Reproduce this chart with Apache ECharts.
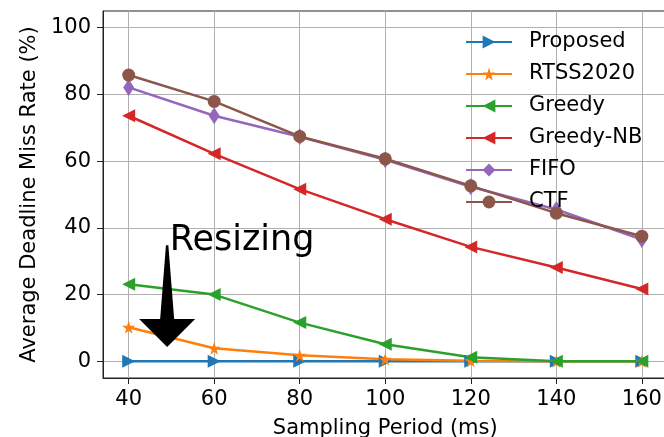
<!DOCTYPE html>
<html>
<head>
<meta charset="utf-8">
<script src="https://cdn.jsdelivr.net/npm/echarts@6/dist/echarts.min.js"></script>
<style>
  html, body { margin: 0; padding: 0; background: #fff; overflow: hidden; }
  #chart { width: 672px; height: 437px; }
</style>
</head>
<body>
<div id="chart"></div>
<script>
// sampling periods (ms)
const periods = [40, 60, 80, 100, 120, 140, 160];
const xTicks = [40, 60, 80, 100, 120, 140, 160];
const yTicks = [0, 20, 40, 60, 80, 100];

// average deadline miss rate (%)
const proposed = [0, 0, 0, 0, 0, 0, 0];
const rtss2020 = [10.2, 3.9, 1.8, 0.6, 0.2, 0, 0];
const greedy   = [23.1, 20.0, 11.6, 5.1, 1.2, 0, 0];
const greedyNB = [73.6, 62.2, 51.6, 42.6, 34.3, 28.1, 21.7];
const fifo     = [82.1, 73.6, 67.3, 60.4, 52.3, 45.5, 36.5];
const ctf      = [85.8, 77.9, 67.4, 60.7, 52.6, 44.4, 37.5];

// "Resizing" annotation (data coords)
const arrowTail = [49, 34.8];
const arrowTip = [49, 4.3];
const labelAt = [49.6, 30.8];

const star = 'path://M50,0 L61,35 L98,35 L68,57 L79,91 L50,70 L21,91 L32,57 L2,35 L39,35 Z';
const font = 'DejaVu Sans';

function pairs(ys) {
  return periods.map((x, i) => [x, ys[i]]);
}

function line(name, ys, color, symbol, size, rotate) {
  return {
    name: name,
    type: 'line',
    data: pairs(ys),
    color: color,
    symbol: symbol,
    symbolSize: size,
    symbolRotate: rotate || 0,
    showSymbol: true,
    lineStyle: { width: 2.5, color: color },
    itemStyle: { color: color },
    animation: false
  };
}

// the chart is a few px wider than the window: the right spine sits just off-screen
let myChart = echarts.init(document.getElementById('chart'));

let option = {
  backgroundColor: '#fff',
  textStyle: { fontFamily: font },
  grid: {
    left: 103, top: 11, width: 564.5, bottom: 59,
    outerBoundsMode: 'none',
    containLabel: false,
    show: true, borderColor: '#222', borderWidth: 1
  },
  legend: {
    orient: 'vertical',
    left: 465,
    top: 31,
    padding: 0,
    itemWidth: 46,
    itemHeight: 16,
    itemGap: 10,
    textStyle: { fontFamily: font, fontSize: 21, color: '#000', lineHeight: 22, padding: [0, 0, 0, 12] },
    data: ['Proposed', 'RTSS2020', 'Greedy', 'Greedy-NB', 'FIFO', 'CTF']
  },
  xAxis: {
    type: 'value',
    min: 34,
    max: 166,
    name: 'Sampling Period (ms)',
    nameLocation: 'middle',
    nameGap: 40,
    nameTextStyle: { fontFamily: font, fontSize: 21, color: '#000' },
    axisLine: { show: true, onZero: false, lineStyle: { color: '#222', width: 1 } },
    axisTick: { show: true, length: 6, customValues: xTicks, lineStyle: { color: '#222' } },
    axisLabel: { customValues: xTicks, fontFamily: font, fontSize: 21, color: '#000', margin: 11 },
    splitLine: { show: true, lineStyle: { color: '#b0b0b0', width: 1 } }
  },
  yAxis: {
    type: 'value',
    min: -5,
    max: 105,
    name: 'Average Deadline Miss Rate (%)',
    nameLocation: 'middle',
    nameGap: 50,
    nameTextStyle: { fontFamily: font, fontSize: 21, color: '#000' },
    axisLine: { show: true, lineStyle: { color: '#222', width: 1 } },
    axisTick: { show: true, length: 6, customValues: yTicks, lineStyle: { color: '#222' } },
    axisLabel: { customValues: yTicks, fontFamily: font, fontSize: 21, color: '#000', margin: 12 },
    splitLine: { show: true, lineStyle: { color: '#b0b0b0', width: 1 } }
  },
  series: [
    line('Proposed', proposed, '#1f77b4', 'triangle', 13, -90),
    line('RTSS2020', rtss2020, '#ff7f0e', star, 13),
    line('Greedy', greedy, '#2ca02c', 'triangle', 13, 90),
    line('Greedy-NB', greedyNB, '#d62728', 'triangle', 13, 90),
    line('FIFO', fifo, '#9467bd', 'diamond', [11, 17]),
    line('CTF', ctf, '#8c564b', 'circle', 13)
  ]
};
myChart.setOption(option);

// arrow + label placed through the axes
const tail = myChart.convertToPixel({ gridIndex: 0 }, arrowTail);
const tip = myChart.convertToPixel({ gridIndex: 0 }, arrowTip);
const lab = myChart.convertToPixel({ gridIndex: 0 }, labelAt);
const headLen = 28, headHalf = 28, shaftTop = 1.2, shaftBot = 7;
const cx = tip[0];
myChart.setOption({
  graphic: [
    {
      type: 'polygon',
      z: 100,
      shape: {
        points: [
          [cx - shaftTop, tail[1]], [cx + shaftTop, tail[1]],
          [cx + shaftBot, tip[1] - headLen], [cx + headHalf, tip[1] - headLen],
          [cx, tip[1]],
          [cx - headHalf, tip[1] - headLen], [cx - shaftBot, tip[1] - headLen]
        ]
      },
      style: { fill: '#000' }
    },
    {
      type: 'text',
      z: 100,
      x: lab[0],
      y: lab[1],
      style: {
        text: 'Resizing',
        fontFamily: font,
        fontSize: 35,
        fill: '#000',
        textAlign: 'left',
        textVerticalAlign: 'bottom'
      }
    }
  ]
});
</script>
</body>
</html>
